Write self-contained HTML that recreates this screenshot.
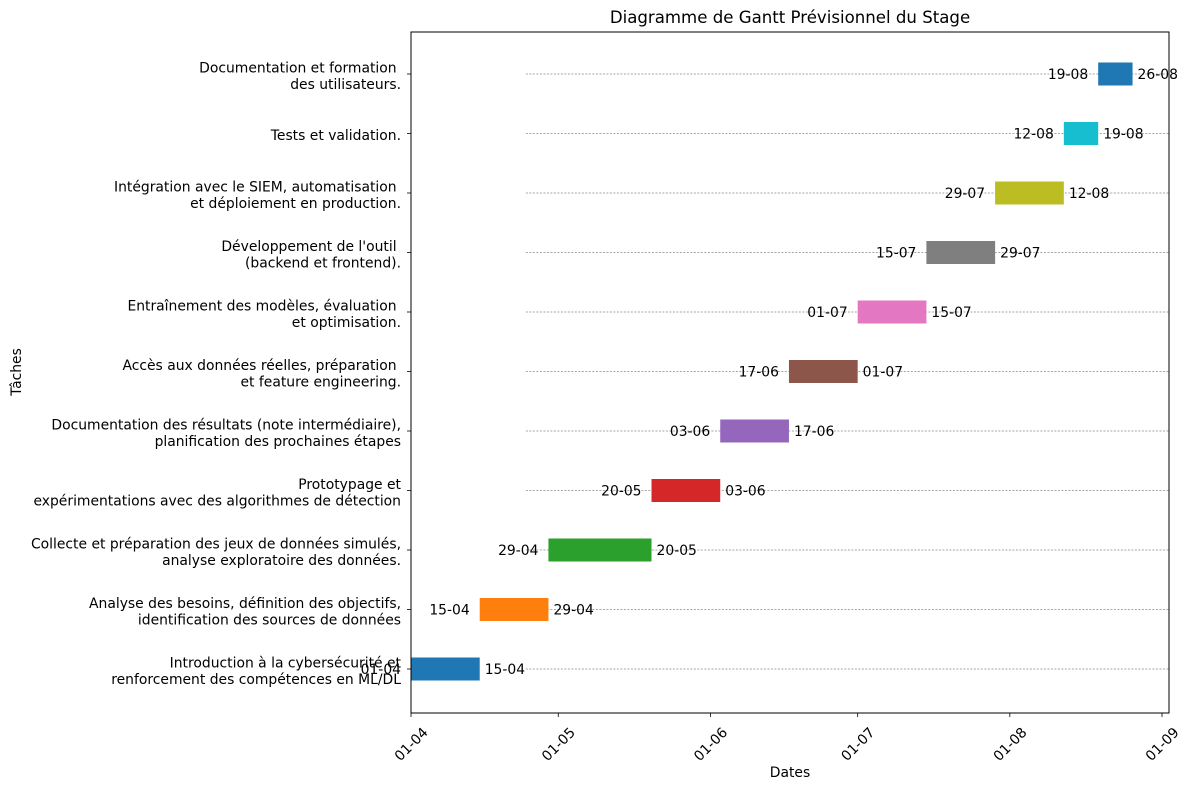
<!DOCTYPE html>
<html><head><meta charset="utf-8"><style>
body{margin:0;background:#fff}
svg{display:block;font-family:"DejaVu Sans","Liberation Sans",sans-serif}
</style></head><body>
<svg id="c" width="1191" height="790"></svg>
<script>
const tasks=["Introduction à la cybersécurité et\nrenforcement des compétences en ML/DL","Analyse des besoins, définition des objectifs,\nidentification des sources de données","Collecte et préparation des jeux de données simulés,\nanalyse exploratoire des données.","Prototypage et\nexpérimentations avec des algorithmes de détection","Documentation des résultats (note intermédiaire),\nplanification des prochaines étapes","Accès aux données réelles, préparation \net feature engineering.","Entraînement des modèles, évaluation \net optimisation.","Développement de l'outil \n(backend et frontend).","Intégration avec le SIEM, automatisation \net déploiement en production.","Tests et validation.","Documentation et formation \ndes utilisateurs."];
const starts=["2024-04-01","2024-04-15","2024-04-29","2024-05-20","2024-06-03","2024-06-17","2024-07-01","2024-07-15","2024-07-29","2024-08-12","2024-08-19"];
const ends=["2024-04-15","2024-04-29","2024-05-20","2024-06-03","2024-06-17","2024-07-01","2024-07-15","2024-07-29","2024-08-12","2024-08-19","2024-08-26"];
const tickDates=["2024-04-01","2024-05-01","2024-06-01","2024-07-01","2024-08-01","2024-09-01"];
const colors=["#1f77b4","#ff7f0e","#2ca02c","#d62728","#9467bd","#8c564b","#e377c2","#7f7f7f","#bcbd22","#17becf","#1f77b4"];
const L=411,R=1169,T=32,B=713,FS=13.9;
const d0=Date.UTC(2024,3,1);
const day=s=>{const p=s.split('-');return (Date.UTC(+p[0],+p[1]-1,+p[2])-d0)/864e5;};
const ppd=751/153;
const X=d=>L+day(d)*ppd;
const Y=i=>669-i*(669-74)/10;
const fmt=s=>s.slice(8,10)+'-'+s.slice(5,7);
const svg=document.getElementById('c');const NS="http://www.w3.org/2000/svg";
function el(t,a,txt){const e=document.createElementNS(NS,t);for(const k in a)e.setAttribute(k,a[k]);if(txt!=null)e.textContent=txt;svg.appendChild(e);return e;}
let e=el('text',{x:790,y:23,'text-anchor':'middle','font-size':16.6},'Diagramme de Gantt Prévisionnel du Stage');

tasks.forEach((t,i)=>{
 const y=Y(i);
 let g=el('line',{x1:L+23.4*ppd,x2:R,y1:y,y2:y,stroke:'#888','stroke-width':0.8,'stroke-dasharray':'2,1.5'});
 
 let b=el('rect',{x:X(starts[i]),y:y-11.5,width:X(ends[i])-X(starts[i]),height:23,fill:colors[i]});
 
 let s=el('text',{x:X(starts[i])-10,y:y+5,'text-anchor':'end','font-size':FS},fmt(starts[i]));
 
 let en=el('text',{x:X(ends[i])+5,y:y+5,'font-size':FS},fmt(ends[i]));
 
 el('line',{x1:L-4,x2:L,y1:y,y2:y,stroke:'#000','stroke-width':0.8});
 const lines=t.split('\n');
 let tl=el('text',{x:401,y:y,'text-anchor':'end','font-size':FS});
 
 lines.forEach((ln,k)=>{const ts=document.createElementNS(NS,'tspan');ts.setAttribute('x',401);ts.setAttribute('y',y+(k-(lines.length-1)/2)*16.5+6.5);ts.textContent=ln;tl.appendChild(ts);});
});
let ax=el('rect',{x:L,y:T,width:R-L,height:B-T,fill:'none',stroke:'#000','stroke-width':1});

tickDates.forEach(d=>{const x=X(d);el('line',{x1:x,x2:x,y1:B,y2:B+4,stroke:'#000','stroke-width':0.8});
 const cy=B+31;
 let t=el('text',{x:x,y:cy+5,'text-anchor':'middle','font-size':FS,transform:`rotate(-45 ${x} ${cy})`},fmt(d));
 });
let xt=el('text',{x:790,y:777,'text-anchor':'middle','font-size':FS},'Dates');

let yt=el('text',{x:21,y:372,'text-anchor':'middle','font-size':FS,transform:'rotate(-90 21 372)'},'Tâches');

</script>
</body></html>
